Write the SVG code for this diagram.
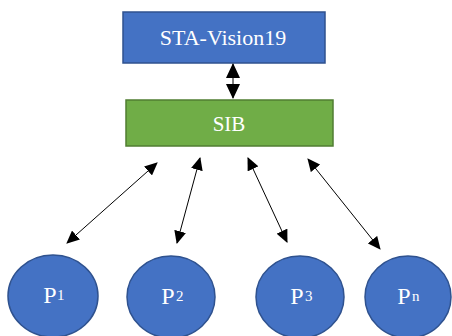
<svg xmlns="http://www.w3.org/2000/svg" width="452" height="336" viewBox="0 0 452 336">
<style>
.blue{fill:#4472C4;stroke:#2F528F;stroke-width:1.5}
.green{fill:#70AD47;stroke:#507E32;stroke-width:1.5}
.lbl{font-family:"Liberation Serif","Times New Roman",serif;fill:#FFFFFF;text-anchor:middle}
.sup{font-family:"Liberation Serif","Times New Roman",serif;fill:#FFFFFF;font-size:15px}
.conn{stroke:#000;stroke-width:1;fill:none;marker-start:url(#ah);marker-end:url(#ah)}
.connv{stroke:#000;stroke-width:1;fill:none;marker-start:url(#ahv);marker-end:url(#ahv)}
</style>
<defs>
<marker id="ah" markerUnits="userSpaceOnUse" viewBox="0 0 13 12" refX="12" refY="6" markerWidth="13" markerHeight="12" orient="auto-start-reverse">
<path d="M0,0 L13,6 L0,12 Z" fill="#000"/>
</marker>
<marker id="ahv" markerUnits="userSpaceOnUse" viewBox="0 0 15 14" refX="14" refY="7" markerWidth="15" markerHeight="14" orient="auto-start-reverse">
<path d="M0,0 L15,7 L0,14 Z" fill="#000"/>
</marker>
</defs>
<g id="sta">
<rect class="blue" x="123" y="12" width="202" height="51"/>
<text class="lbl" x="223" y="45" font-size="22">STA-Vision19</text>
</g>
<g id="sib">
<rect class="green" x="126" y="100" width="207" height="46"/>
<text class="lbl" x="229" y="131" font-size="21">SIB</text>
</g>
<g id="p1">
<ellipse class="blue" cx="53" cy="296" rx="45" ry="41"/>
<text class="lbl" x="50" y="303" font-size="24">P</text>
<text class="sup" x="57" y="300">1</text>
</g>
<g id="p2">
<ellipse class="blue" cx="171" cy="297" rx="44" ry="41"/>
<text class="lbl" x="168" y="304" font-size="24">P</text>
<text class="sup" x="176" y="301">2</text>
</g>
<g id="p3">
<ellipse class="blue" cx="300" cy="297" rx="44" ry="41"/>
<text class="lbl" x="297" y="304" font-size="24">P</text>
<text class="sup" x="305" y="301">3</text>
</g>
<g id="pn">
<ellipse class="blue" cx="408" cy="297" rx="43" ry="41"/>
<text class="lbl" x="404" y="304" font-size="24">P</text>
<text class="sup" x="412" y="301">n</text>
</g>
<g id="connectors">
<line class="connv" x1="233" y1="64" x2="233" y2="98"/>
<line class="conn" x1="157" y1="163" x2="67" y2="243"/>
<line class="conn" x1="200" y1="158" x2="177" y2="243"/>
<line class="conn" x1="248" y1="158" x2="287" y2="242"/>
<line class="conn" x1="308" y1="159" x2="380" y2="249"/>
</g>
</svg>
